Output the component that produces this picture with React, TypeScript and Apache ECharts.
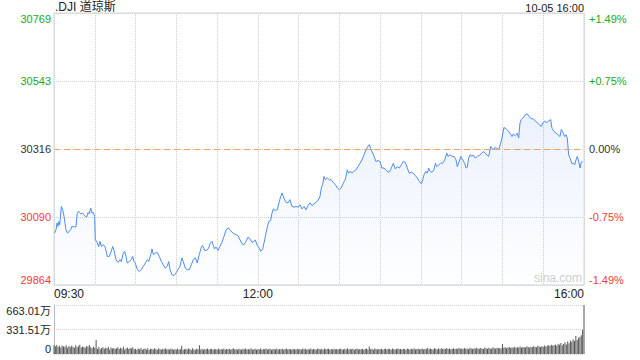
import React, { useEffect, useRef } from "react";
import * as echarts from "echarts";

const title = ".DJI 道琼斯";
const stamp = "10-05 16:00";
const prevClose = 30316.4;
const quarter = 226.3;
const volMax = 663.01;
const timeLabels: Record<number, string> = { 0: "09:30", 150: "12:00", 390: "16:00" };

const minutes = [
  0.5, 1.5, 2.2, 2.9, 3.5, 4.2, 5.4, 6.4, 7.4, 8.8, 9.8, 11.3, 12.3, 13.2, 14.7, 16.2, 17.1, 18.2, 19.6, 21.1,
  22.6, 24.1, 25.0, 26.0, 27.0, 28.0, 28.9, 29.9, 30.4, 31.4, 32.9, 33.8, 34.8, 36.3, 37.7, 39.2, 40.7, 41.7, 43.2, 44.1,
  45.6, 47.1, 48.6, 49.5, 51.0, 52.0, 53.0, 53.9, 55.4, 56.9, 57.9, 58.9, 59.8, 61.3, 62.8, 64.2, 65.7, 67.2, 68.7, 69.7,
  71.2, 72.1, 73.1, 74.5, 76.0, 77.5, 79.0, 80.4, 81.9, 83.4, 84.4, 85.4, 86.8, 88.3, 89.8, 91.2, 92.7, 94.2, 95.1, 96.6,
  98.1, 99.6, 101.0, 102.5, 104.0, 105.4, 106.9, 108.4, 109.4, 110.9, 112.4, 113.8, 114.8, 116.3, 117.2, 118.2, 119.2, 120.7, 122.1, 123.6,
  125.1, 126.6, 128.0, 129.5, 131.0, 132.4, 133.9, 135.4, 136.9, 138.3, 139.8, 141.3, 142.7, 144.2, 145.7, 147.2, 148.1, 149.6, 151.1, 152.1,
  153.6, 155.0, 156.5, 158.0, 159.4, 160.4, 161.4, 162.8, 164.3, 165.8, 166.8, 167.8, 169.2, 170.7, 172.2, 173.6, 175.1, 176.6, 178.1, 179.5,
  181.0, 182.5, 184.0, 185.4, 186.9, 188.4, 189.8, 191.3, 192.8, 194.3, 195.7, 196.7, 197.7, 198.7, 199.6, 201.1, 202.6, 204.0, 205.5, 207.0,
  208.5, 209.9, 211.4, 212.9, 214.3, 215.8, 216.8, 217.8, 219.3, 220.7, 222.2, 223.7, 225.2, 226.6, 228.1, 229.6, 231.0, 232.0, 233.0, 234.0,
  235.5, 236.9, 238.4, 239.9, 241.3, 242.8, 244.3, 245.8, 247.2, 248.7, 249.7, 251.1, 252.6, 254.1, 255.6, 257.0, 258.5, 260.0, 261.4, 262.9,
  264.4, 265.9, 267.3, 268.8, 270.3, 271.3, 272.3, 273.7, 274.7, 275.7, 276.7, 278.1, 279.6, 280.6, 281.6, 283.1, 284.5, 286.0, 287.5, 289.0,
  289.9, 291.4, 292.9, 294.3, 295.8, 296.8, 298.2, 299.3, 300.7, 302.2, 303.2, 304.1, 305.1, 306.1, 307.6, 308.5, 310.0, 311.5, 312.9, 314.4,
  315.9, 317.4, 318.4, 319.9, 321.3, 322.3, 323.2, 324.3, 325.7, 327.2, 328.7, 329.6, 331.1, 332.6, 334.1, 335.5, 337.0, 338.0, 339.4, 340.9,
  341.9, 342.9, 343.8, 345.3, 346.8, 348.3, 349.7, 351.2, 352.7, 354.2, 355.6, 357.1, 358.6, 359.6, 361.1, 362.5, 364.0, 365.5, 366.4, 367.9,
  369.4, 370.9, 372.3, 373.3, 374.8, 375.8, 376.7, 377.7, 378.7, 379.7, 381.2, 382.1, 383.1, 384.1, 385.1, 386.1, 387.1, 388.0, 389.0,
];

const prices = [
  30037, 30048, 30070, 30059, 30075, 30064, 30125, 30114, 30092, 30048, 30037, 30042, 30048, 30059, 30057, 30057, 30103, 30109, 30101, 30103,
  30094, 30090, 30105, 30101, 30120, 30103, 30105, 30092, 30014, 30009, 29992, 30009, 29992, 29998, 29990, 29959, 29959, 29970, 29992, 29981,
  29948, 29939, 29948, 29942, 29970, 29976, 29959, 29937, 29942, 29948, 29959, 29942, 29937, 29915, 29909, 29915, 29926, 29937, 29948, 29942,
  29965, 29984, 29965, 29970, 29972, 29959, 29942, 29931, 29920, 29926, 29942, 29915, 29898, 29895, 29904, 29915, 29926, 29954, 29942, 29920,
  29915, 29915, 29931, 29948, 29954, 29937, 29965, 29990, 29995, 29979, 29979, 29987, 30001, 30009, 29995, 29984, 29990, 29979, 29992, 30006,
  30026, 30046, 30054, 30048, 30039, 30035, 30031, 30028, 30014, 30001, 29998, 30009, 30023, 30017, 30006, 30009, 30014, 29995, 29987, 29976,
  29984, 30014, 30048, 30075, 30078, 30103, 30117, 30112, 30114, 30142, 30158, 30170, 30153, 30139, 30137, 30148, 30125, 30123, 30125, 30123,
  30131, 30117, 30125, 30114, 30128, 30137, 30128, 30134, 30139, 30145, 30158, 30187, 30198, 30225, 30214, 30220, 30214, 30214, 30205, 30198,
  30187, 30181, 30187, 30203, 30214, 30247, 30236, 30242, 30236, 30242, 30247, 30258, 30269, 30280, 30297, 30314, 30325, 30331, 30319, 30308,
  30292, 30275, 30278, 30275, 30253, 30253, 30247, 30239, 30242, 30258, 30269, 30250, 30258, 30253, 30264, 30275, 30272, 30253, 30236, 30239,
  30236, 30228, 30220, 30209, 30201, 30214, 30231, 30242, 30236, 30253, 30242, 30239, 30247, 30269, 30258, 30264, 30269, 30269, 30280, 30303,
  30292, 30297, 30292, 30292, 30280, 30258, 30275, 30292, 30280, 30269, 30253, 30255, 30286, 30297, 30292, 30297, 30286, 30292, 30295, 30300,
  30308, 30303, 30297, 30292, 30325, 30319, 30314, 30321, 30319, 30314, 30336, 30353, 30388, 30384, 30377, 30369, 30358, 30366, 30361, 30369,
  30353, 30403, 30414, 30421, 30430, 30433, 30425, 30417, 30417, 30410, 30403, 30397, 30391, 30403, 30410, 30403, 30410, 30414, 30386, 30375,
  30369, 30364, 30358, 30381, 30369, 30358, 30364, 30353, 30297, 30286, 30267, 30270, 30264, 30280, 30292, 30275, 30253, 30273, 30275,
];

// volume per minute, 万
const volumes = [
  118, 105, 122, 96, 110, 88, 115, 102, 97, 120, 84, 108, 93, 112, 99, 86, 117, 91, 104, 125, 89, 100, 94, 83, 109, 97, 121, 90, 78, 103,
  86, 190, 72, 95, 64, 80, 91, 70, 84, 77, 96, 62, 88, 73, 82, 69, 79, 93, 66, 85, 71, 98, 60, 76, 89, 67, 81, 74, 92, 63,
  70, 58, 75, 64, 81, 57, 69, 73, 62, 78, 55, 67, 72, 60, 77, 65, 59, 74, 68, 56, 71, 63, 79, 61, 66, 57, 73, 69, 58, 64,
  62, 75, 59, 68, 110, 57, 64, 71, 60, 73, 66, 55, 79, 62, 58, 70, 65, 120, 61, 72, 57, 68, 63, 74, 59, 66, 71, 56, 69, 64,
  60, 73, 58, 67, 62, 75, 56, 69, 64, 71, 59, 66, 77, 61, 68, 57, 72, 63, 58, 70, 65, 74, 60, 67, 62, 78, 57, 64, 71, 59,
  66, 61, 73, 58, 69, 64, 75, 60, 67, 72, 57, 65, 70, 62, 76, 59, 68, 63, 71, 58, 66, 74, 61, 69, 64, 57, 72, 65, 60, 70,
  63, 68, 59, 74, 65, 71, 58, 67, 62, 76, 60, 69, 64, 57, 73, 66, 61, 70, 58, 75, 63, 68, 72, 59, 66, 62, 71, 64, 69, 60,
  67, 73, 58, 65, 70, 62, 78, 60, 68, 64, 71, 57, 66, 74, 61, 69, 63, 72, 59, 67, 75, 62, 100, 64, 70, 58, 73, 66, 61, 68,
  64, 71, 59, 68, 74, 62, 66, 70, 58, 73, 65, 61, 69, 76, 63, 67, 60, 72, 66, 59, 74, 68, 62, 70, 65, 78, 61, 67, 72, 64,
  69, 75, 62, 71, 66, 80, 64, 73, 68, 61, 77, 70, 65, 74, 63, 79, 67, 72, 66, 82, 69, 75, 64, 71, 78, 66, 73, 68, 84, 70,
  74, 68, 80, 71, 76, 65, 83, 73, 69, 78, 72, 86, 75, 70, 81, 74, 68, 88, 77, 72, 84, 76, 70, 90, 79, 74, 85, 78, 82, 76,
  135, 84, 92, 79, 88, 95, 82, 90, 86, 98, 84, 93, 88, 101, 85, 96, 91, 87, 104, 94, 89, 99, 92, 108, 96, 90, 112, 100, 95, 106,
  98, 115, 103, 110, 120, 107, 125, 114, 118, 130, 112, 140, 125, 150, 118, 135, 160, 128, 170, 145, 182, 165, 200, 175, 245, 190, 220, 230, 255, 325, 663.01,
];

const FONT = '"Liberation Sans", Arial, "Noto Sans CJK SC", sans-serif';
const GREEN = "#1ba81b";
const RED = "#f03c3c";
const GRAY = "#333";

function colorFor(v: number) {
  if (v > 0.01) return GREEN;
  if (v < -0.01) return RED;
  return GRAY;
}

export default function App() {
  const ref = useRef<HTMLDivElement>(null);
  useEffect(() => {
    document.body.style.margin = "0";
    if (!ref.current) return;
    const chart = echarts.init(ref.current, undefined, { renderer: "svg" });
    const lineData = minutes.map((m, i) => [m, prices[i] - prevClose]);
    const volData = volumes.map((v, i) => [i, v]);
    chart.setOption({
      animation: false,
      textStyle: { fontFamily: FONT },
      title: [
        {
          text: title,
          left: 55,
          top: 1,
          padding: 0,
          textStyle: { fontSize: 12, fontWeight: "normal", color: "#222", fontFamily: FONT },
        },
        {
          text: stamp,
          right: 56,
          top: 2,
          padding: 0,
          textStyle: { fontSize: 11, fontWeight: "normal", color: "#222", fontFamily: FONT },
        },
      ],
      graphic: [
        {
          type: "text",
          right: 58,
          top: 272,
          style: { text: "sina.com", fill: "#cfcfcf", fontSize: 12, fontFamily: FONT },
          z: 1,
        },
      ],
      grid: [
        { left: 54, top: 13, width: 530, height: 272, show: true, borderColor: "#d4d4d4", borderWidth: 1 },
        { left: 54, top: 305, width: 530, height: 49 },
      ],
      xAxis: [
        {
          type: "value",
          gridIndex: 0,
          min: 0,
          max: 390,
          interval: 30,
          axisLine: { show: false },
          axisTick: { show: false },
          splitLine: { show: true, lineStyle: { color: "#cfcfcf", type: "dotted", width: 1 } },
          axisLabel: {
            formatter: (v: number) => timeLabels[v] || "",
            color: "#222",
            fontSize: 12,
            margin: 3,
            fontFamily: FONT,
            showMinLabel: true,
            showMaxLabel: true,
            alignMinLabel: "left",
            alignMaxLabel: "right",
            hideOverlap: false,
          },
        },
        {
          type: "value",
          gridIndex: 1,
          min: 0,
          max: 390,
          interval: 30,
          axisLine: { show: false },
          axisTick: { show: false },
          splitLine: { show: false },
          axisLabel: { show: false },
        },
      ],
      yAxis: [
        {
          type: "value",
          gridIndex: 0,
          min: -2 * quarter,
          max: 2 * quarter,
          interval: quarter,
          axisLine: { show: false },
          axisTick: { show: false },
          splitLine: { show: true, lineStyle: { color: "#cfcfcf", type: "dotted", width: 1 } },
          axisLabel: {
            formatter: (v: number) => (prevClose + v).toFixed(0),
            color: (v: any) => colorFor(Number(v)),
            fontSize: 11,
            margin: 3,
            fontFamily: FONT,
            verticalAlignMinLabel: "bottom",
            verticalAlignMaxLabel: "top",
          },
        },
        {
          type: "value",
          gridIndex: 0,
          position: "right",
          min: -2 * quarter,
          max: 2 * quarter,
          interval: quarter,
          axisLine: { show: false },
          axisTick: { show: false },
          splitLine: { show: false },
          axisLabel: {
            formatter: (v: number) => {
              const p = (v / prevClose) * 100;
              if (Math.abs(p) < 0.001) return "0.00%";
              return (p > 0 ? "+" : "") + p.toFixed(2) + "%";
            },
            color: (v: any) => colorFor(Number(v)),
            fontSize: 11,
            margin: 5,
            fontFamily: FONT,
            verticalAlignMinLabel: "bottom",
            verticalAlignMaxLabel: "top",
          },
        },
        {
          type: "value",
          gridIndex: 1,
          min: 0,
          max: volMax,
          interval: volMax / 2,
          axisLine: { show: true, lineStyle: { color: "#bbb" } },
          axisTick: { show: false },
          splitLine: { show: true, lineStyle: { color: "#cfcfcf", type: "dotted", width: 1 } },
          axisLabel: {
            formatter: (v: number) => (v < 0.01 ? "0" : (v + 0.001).toFixed(2) + "万"),
            color: "#222",
            fontSize: 11,
            margin: 3,
            fontFamily: FONT,
            verticalAlignMinLabel: "bottom",
            verticalAlignMaxLabel: "top",
          },
        },
      ],
      series: [
        {
          type: "line",
          xAxisIndex: 0,
          yAxisIndex: 0,
          data: lineData,
          showSymbol: false,
          symbol: "none",
          lineStyle: { color: "#4f8bef", width: 1 },
          areaStyle: {
            origin: "start",
            color: new echarts.graphic.LinearGradient(0, 0, 0, 1, [
              { offset: 0, color: "rgba(79,139,239,0.16)" },
              { offset: 1, color: "rgba(79,139,239,0.01)" },
            ]),
          },
          markLine: {
            silent: true,
            symbol: "none",
            label: { show: false },
            lineStyle: { color: "#f4a064", type: [6, 4], width: 1 },
            data: [{ yAxis: 0 }],
          },
        },
        {
          type: "bar",
          xAxisIndex: 1,
          yAxisIndex: 2,
          data: volData,
          barWidth: 1,
          itemStyle: { color: "#555" },
        },
      ],
    });
    return () => chart.dispose();
  }, []);
  return <div ref={ref} style={{ width: 640, height: 360 }} />;
}
